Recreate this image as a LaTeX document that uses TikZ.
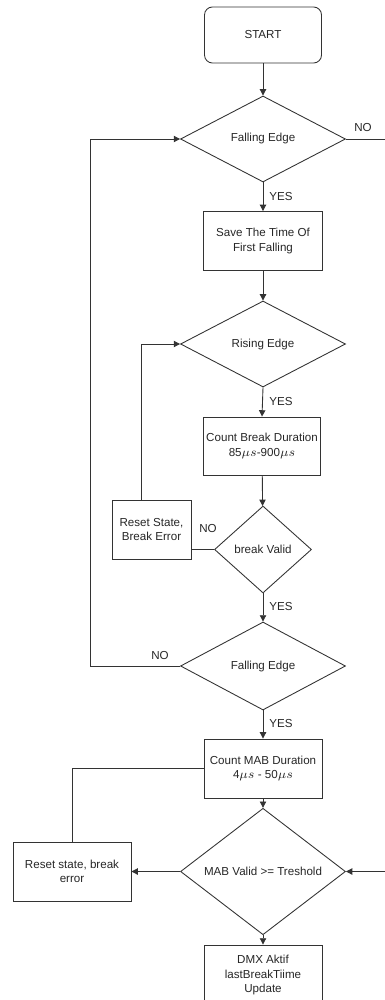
\documentclass[tikz,border=0pt]{standalone}
\usepackage{fontspec}
\setmainfont{Liberation Sans}
\usetikzlibrary{shapes.geometric,arrows.meta}
\begin{document}
\begin{tikzpicture}[x=0.02cm,y=-0.02cm,
  font=\fontsize{6.6}{8}\selectfont,
  every node/.style={text=black!85},
  box/.style={draw=black!80,line width=0.5pt,align=center,inner sep=1pt},
  dec/.style={draw=black!80,line width=0.5pt,shape=diamond,inner sep=0pt,align=center},
  ln/.style={draw=black!80,line width=0.5pt},
  arr/.style={ln,-{Triangle[length=3.6pt,width=3.6pt]}},
  lbl/.style={inner sep=0pt}]
\useasboundingbox (0,0) rectangle (385,1000);
\node[box,rounded corners=4.5pt,minimum width=2.34cm,minimum height=1.12cm] (start) at (263,35) {START};
\node[dec,minimum width=3.3cm,minimum height=1.72cm] (fe1) at (263,139) {Falling Edge};
\node[box,minimum width=2.38cm,minimum height=1.18cm] (save) at (263,241) {Save The Time Of\\First Falling};
\node[dec,minimum width=3.3cm,minimum height=1.72cm] (rise) at (263,344) {Rising Edge};
\node[box,minimum width=2.34cm,minimum height=1.16cm] (cbreak) at (262,446) {Count Break Duration\\85$\mu s$-900$\mu s$};
\node[dec,minimum width=1.94cm,minimum height=1.74cm] (bvalid) at (263,549.5) {break Valid};
\node[box,minimum width=1.58cm,minimum height=1.18cm] (reset1) at (151.5,529.5) {Reset State,\\Break Error};
\node[dec,minimum width=3.3cm,minimum height=1.76cm] (fe2) at (263,666) {Falling Edge};
\node[box,minimum width=2.36cm,minimum height=1.18cm] (cmab) at (263,768.5) {Count MAB Duration\\4$\mu s$ - 50$\mu s$};
\node[dec,minimum width=3.3cm,minimum height=1.74cm] (mab) at (263,871.5) {MAB Valid >= Treshold};
\node[box,minimum width=2.36cm,minimum height=1.18cm] (reset2) at (72,871.5) {Reset state, break\\error};
\node[box,minimum width=2.36cm,minimum height=1.2cm] (dmx) at (263,975) {DMX Aktif\\lastBreakTiime\\Update};
\coordinate (noexit) at (385,139);
\coordinate (mabin) at (385,871.5);
\coordinate (lp1) at (141,344);
\coordinate (lp2) at (90,400);
% connectors
\draw[arr] (start) -- (fe1);
\draw[ln] (fe1.east) -- (noexit);
\node[lbl] (no1) at (363,128) {NO};
\draw[arr] (fe1.south) -- (save.north);
\node[lbl,anchor=west] (yes1) at (269,197) {YES};
\draw[arr] (save) -- (rise);
\draw[arr] (rise.south) -- (cbreak.north);
\node[lbl,anchor=west] (yes2) at (269,402) {YES};
\draw[arr] (cbreak) -- (bvalid);
\draw[ln] (bvalid.west) -- (bvalid.west -| reset1.east);
\node[lbl] (no2) at (208,529) {NO};
\draw[arr] (reset1.north -| lp1) -- (lp1) -- (rise.west);
\draw[arr] (bvalid.south) -- (fe2.north);
\node[lbl,anchor=west] (yes3) at (269,607) {YES};
\draw[arr] (fe2.west) -- (fe2.west -| lp2) -- (fe1.west -| lp2) -- (fe1.west);
\node[lbl] (no3) at (160,656) {NO};
\draw[arr] (fe2.south) -- (cmab.north);
\node[lbl,anchor=west] (yes4) at (269,724) {YES};
\draw[ln] (cmab.west) -| (reset2.north);
\draw[arr] (cmab) -- (mab);
\draw[arr] (mab.west) -- (reset2.east);
\draw[arr] (mabin) -- (mab.east);
\draw[arr] (mab.south) -- (dmx.north);
\end{tikzpicture}
\end{document}
